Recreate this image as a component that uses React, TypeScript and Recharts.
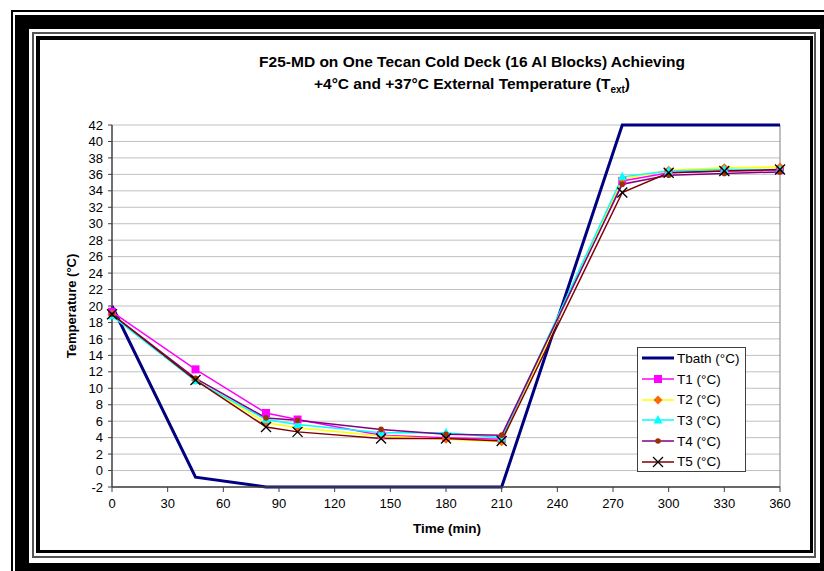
import React from "react";
import {
  LineChart,
  Line,
  XAxis,
  YAxis,
  CartesianGrid,
  Legend,
  ReferenceLine,
} from "recharts";

const times = [0, 45, 83, 100, 145, 180, 210, 275, 300, 330, 360];
const tbath = [20, -0.8, -2, -2, -2, -2, -2, 42, 42, 42, 42];
const t1 = [19.3, 12.3, 7.0, 6.2, 4.3, 4.0, 3.8, 35.2, 36.2, 36.4, 36.5];
const t2 = [19.0, 11.0, 5.8, 5.2, 4.2, 3.8, 3.5, 35.4, 36.5, 36.8, 36.9];
const t3 = [18.8, 10.9, 6.2, 5.6, 4.6, 4.6, 4.0, 35.7, 36.4, 36.6, 36.6];
const t4 = [19.0, 11.2, 6.4, 6.1, 5.0, 4.4, 4.3, 34.8, 35.9, 36.1, 36.3];
const t5 = [19.0, 11.0, 5.3, 4.7, 3.9, 3.9, 3.6, 33.8, 36.2, 36.4, 36.6];

const xTicks = [0, 30, 60, 90, 120, 150, 180, 210, 240, 270, 300, 330, 360];
const yTicks = [-2, 0, 2, 4, 6, 8, 10, 12, 14, 16, 18, 20, 22, 24, 26, 28, 30, 32, 34, 36, 38, 40, 42];

const seriesNames = ["Tbath (°C)", "T1 (°C)", "T2 (°C)", "T3 (°C)", "T4 (°C)", "T5 (°C)"];

const data = times.map((t, i) => ({
  time: t,
  tbath: tbath[i],
  t1: t1[i],
  t2: t2[i],
  t3: t3[i],
  t4: t4[i],
  t5: t5[i],
}));

const FONT = '"Liberation Sans", Arial, sans-serif';

// marker shapes, drawn around (cx, cy)
const marker = (kind: string, cx: number, cy: number, key?: any) => {
  switch (kind) {
    case "square":
      return <rect key={key} x={cx - 4} y={cy - 4} width={8} height={8} fill="#FF00FF" />;
    case "diamond":
      return (
        <polygon
          key={key}
          points={`${cx},${cy - 4.5} ${cx + 4.5},${cy} ${cx},${cy + 4.5} ${cx - 4.5},${cy}`}
          fill="#FF6600"
        />
      );
    case "triangle":
      return (
        <polygon
          key={key}
          points={`${cx},${cy - 5} ${cx + 4.5},${cy + 3.5} ${cx - 4.5},${cy + 3.5}`}
          fill="#00FFFF"
        />
      );
    case "circle":
      return <circle key={key} cx={cx} cy={cy} r={2.8} fill="#993300" />;
    case "x":
      return (
        <g key={key} stroke="#000" strokeWidth={1.3}>
          <line x1={cx - 5} y1={cy - 5} x2={cx + 5} y2={cy + 5} />
          <line x1={cx - 5} y1={cy + 5} x2={cx + 5} y2={cy - 5} />
        </g>
      );
    default:
      return <g key={key} />;
  }
};

const dotOf = (kind: string) => (props: any) => {
  const { cx, cy, index } = props;
  if (cx == null || cy == null) return <g key={`d-${kind}-${index}`} />;
  return marker(kind, cx, cy, `d-${kind}-${index}`);
};

const legendItems = [
  { name: seriesNames[0], color: "#000080", kind: "none", w: 3 },
  { name: seriesNames[1], color: "#FF00FF", kind: "square", w: 1.5 },
  { name: seriesNames[2], color: "#FFFF00", kind: "diamond", w: 1.5 },
  { name: seriesNames[3], color: "#00FFFF", kind: "triangle", w: 1.5 },
  { name: seriesNames[4], color: "#800080", kind: "circle", w: 1.5 },
  { name: seriesNames[5], color: "#800000", kind: "x", w: 1.5 },
];

const LegendBox = () => (
  <div
    style={{
      width: 109,
      height: 125,
      border: "1px solid #404040",
      background: "#fff",
      boxSizing: "border-box",
      fontFamily: FONT,
      fontSize: 13.5,
      color: "#000",
    }}
  >
    {legendItems.map((it) => (
      <div key={it.name} style={{ display: "flex", alignItems: "center", height: 20.7 }}>
        <svg width={36} height={20} style={{ flex: "none" }}>
          <line x1={4} y1={10} x2={36} y2={10} stroke={it.color} strokeWidth={it.w} />
          {marker(it.kind, 20, 10)}
        </svg>
        <span style={{ marginLeft: 3, whiteSpace: "nowrap" }}>{it.name}</span>
      </div>
    ))}
  </div>
);

const App = () => {
  return (
    <div
      style={{
        position: "absolute",
        left: 0,
        top: 0,
        width: 824,
        height: 571,
        overflow: "hidden",
        background: "#fff",
        fontFamily: FONT,
      }}
    >
      {/* frame */}
      <div style={{ position: "absolute", left: 11, top: 10, width: 900, height: 700, border: "2px solid #000" }} />
      <div style={{ position: "absolute", left: 15, top: 15, width: 900, height: 700, background: "#000" }} />
      <div style={{ position: "absolute", left: 29, top: 29, width: 791, height: 534, background: "#fff" }} />
      <div
        style={{
          position: "absolute",
          left: 32,
          top: 32,
          width: 784,
          height: 526,
          border: "2px solid #555",
          boxSizing: "border-box",
        }}
      />
      <div
        style={{
          position: "absolute",
          left: 36,
          top: 36,
          width: 777,
          height: 517,
          borderStyle: "solid",
          borderColor: "#000",
          borderWidth: "4px 3px 3px 4px",
          boxSizing: "border-box",
          background: "#fff",
        }}
      />

      {/* title */}
      <div
        style={{
          position: "absolute",
          left: 172,
          top: 51,
          width: 600,
          textAlign: "center",
          fontWeight: "bold",
          fontSize: 15.5,
          lineHeight: "22px",
          color: "#000",
        }}
      >
        <div>F25-MD on One Tecan Cold Deck (16 Al Blocks) Achieving</div>
        <div>
          +4°C and +37°C External Temperature (T<sub style={{ fontSize: 10, lineHeight: 0 }}>ext</sub>)
        </div>
      </div>

      {/* axis titles */}
      <div
        style={{
          position: "absolute",
          left: 72 - 60,
          top: 306 - 8,
          width: 120,
          height: 16,
          lineHeight: "16px",
          textAlign: "center",
          transform: "rotate(-90deg)",
          fontWeight: "bold",
          fontSize: 13,
          color: "#000",
        }}
      >
        Temperature (°C)
      </div>
      <div
        style={{
          position: "absolute",
          left: 447 - 60,
          top: 521,
          width: 120,
          textAlign: "center",
          fontWeight: "bold",
          fontSize: 13.5,
          color: "#000",
        }}
      >
        Time (min)
      </div>

      <div style={{ position: "absolute", left: 40, top: 40 }}>
        <LineChart
          width={770}
          height={510}
          data={data}
          margin={{ top: 85, right: 30, left: 0, bottom: 0 }}
        >
          <CartesianGrid vertical={false} stroke="#c0c0c0" strokeWidth={1} />
          <XAxis
            dataKey="time"
            type="number"
            domain={[0, 360]}
            ticks={xTicks}
            interval={0}
            height={63}
            tickSize={5}
            tickMargin={7}
            axisLine={{ stroke: "#404040", strokeWidth: 1.5 }}
            tickLine={{ stroke: "#404040" }}
            tick={{ fill: "#000", fontSize: 13, fontFamily: FONT }}
          />
          <YAxis
            type="number"
            domain={[-2, 42]}
            ticks={yTicks}
            interval={0}
            width={72}
            tickSize={4}
            tickMargin={5}
            axisLine={{ stroke: "#404040", strokeWidth: 1.5 }}
            tickLine={{ stroke: "#404040" }}
            tick={{ fill: "#000", fontSize: 13, fontFamily: FONT }}
          />
          <ReferenceLine x={360} stroke="#808080" />
          <Line
            dataKey="tbath"
            name={seriesNames[0]}
            stroke="#000080"
            strokeWidth={3}
            dot={false}
            activeDot={false}
            type="linear"
            isAnimationActive={false}
          />
          <Line
            dataKey="t1"
            name={seriesNames[1]}
            stroke="#FF00FF"
            strokeWidth={1.5}
            dot={dotOf("square")}
            activeDot={false}
            type="linear"
            isAnimationActive={false}
          />
          <Line
            dataKey="t2"
            name={seriesNames[2]}
            stroke="#FFFF00"
            strokeWidth={1.5}
            dot={dotOf("diamond")}
            activeDot={false}
            type="linear"
            isAnimationActive={false}
          />
          <Line
            dataKey="t3"
            name={seriesNames[3]}
            stroke="#00FFFF"
            strokeWidth={1.5}
            dot={dotOf("triangle")}
            activeDot={false}
            type="linear"
            isAnimationActive={false}
          />
          <Line
            dataKey="t4"
            name={seriesNames[4]}
            stroke="#800080"
            strokeWidth={1.5}
            dot={dotOf("circle")}
            activeDot={false}
            type="linear"
            isAnimationActive={false}
          />
          <Line
            dataKey="t5"
            name={seriesNames[5]}
            stroke="#800000"
            strokeWidth={1.5}
            dot={dotOf("x")}
            activeDot={false}
            type="linear"
            isAnimationActive={false}
          />
          <Legend
            layout="vertical"
            align="center"
            verticalAlign="middle"
            content={() => <LegendBox />}
            wrapperStyle={{ position: "absolute", left: 597, top: 307, width: 109, height: 125 }}
          />
        </LineChart>
      </div>
    </div>
  );
};

export default App;
